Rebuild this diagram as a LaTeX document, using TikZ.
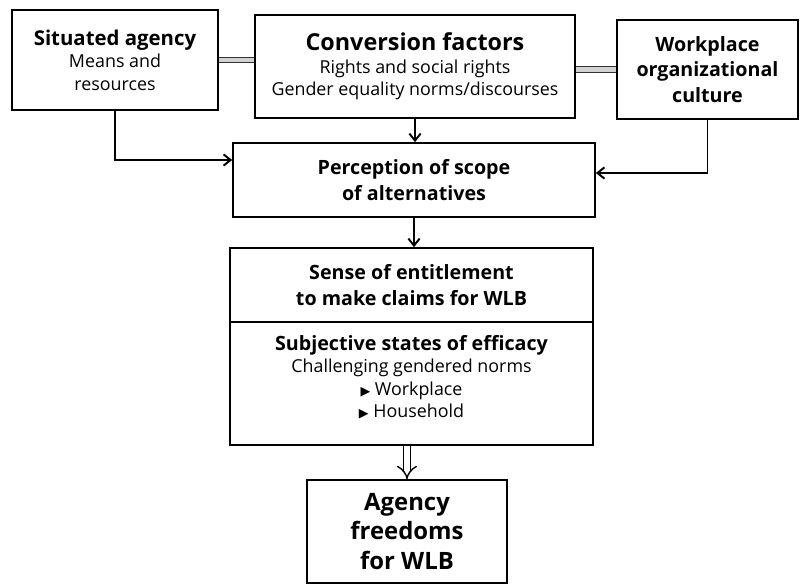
\documentclass[tikz,border=0pt]{standalone}
\usepackage{fontspec}
\setmainfont{Open Sans}
\newfontfamily\symfont{DejaVu Sans}
\usetikzlibrary{arrows.meta, positioning, calc}

\begin{document}
\begin{tikzpicture}[
    node distance=0pt,
    box/.style={rectangle, draw, line width=1.2pt, align=center, inner sep=2pt,
        font=\fontsize{12.7}{16}\selectfont},
    link/.style={draw=black!80, line width=0.7pt, double=gray!35, double distance=3pt},
    flow/.style={-{Straight Barb[length=5pt,width=8pt]}, line width=1.4pt},
    fat/.style={double, double distance=4pt, line width=1pt, -{Implies}},
]
\useasboundingbox (0,0) rectangle (20.2,-14.625);
\node[box, minimum width=5.15cm, minimum height=2.5cm] (situated) at (2.875,-1.5)
    {{\fontsize{14.5}{19}\selectfont\bfseries Situated agency}\\Means and\\resources};
\node[box, minimum width=8cm, minimum height=2.575cm] (conversion) at (10.375,-1.6625)
    {{\fontsize{16.6}{21}\selectfont\bfseries Conversion factors}\\Rights and social rights\\Gender equality norms/discourses};
\node[box, minimum width=4.525cm, minimum height=2.475cm, font=\fontsize{14}{18}\selectfont\bfseries] (workplace) at (17.6875,-1.7375)
    {Workplace\\organizational\\culture};
\node[box, minimum width=9.05cm, minimum height=1.85cm, font=\fontsize{14}{18}\selectfont\bfseries] (perception) at (10.35,-4.5)
    {Perception of scope\\of alternatives};
\node[box, minimum width=9.075cm, minimum height=1.85cm, font=\fontsize{14}{18}\selectfont\bfseries] (entitlement) at (10.2875,-7.125)
    {Sense of entitlement\\to make claims for WLB};
\node[box, minimum width=9.075cm, minimum height=3.075cm, text depth=0.35cm, below=-1.2pt of entitlement] (efficacy)
    {{\fontsize{14}{17}\selectfont\bfseries Subjective states of efficacy}\\Challenging gendered norms\\{\symfont\fontsize{9}{9}\selectfont ▶} Workplace\\{\symfont\fontsize{9}{9}\selectfont ▶} Household};
\node[box, minimum width=5cm, minimum height=2.575cm, font=\fontsize{17}{21}\selectfont\bfseries] (freedoms) at (10.175,-13.2875)
    {Agency\\freedoms\\for WLB};

\draw[link] (situated.east) -- (situated.east -| conversion.west);
\draw[link] (workplace.west) -- (workplace.west -| conversion.east);
\draw[flow] (conversion) -- (conversion |- perception.north);
\draw[flow] (situated) |- ([yshift=0.5cm]perception.west);
\draw[flow] (workplace) |- ([yshift=0.175cm]perception.east);
\draw[flow] (perception) -- (perception |- entitlement.north);
\draw[fat] (efficacy.south -| freedoms) -- (freedoms);
\end{tikzpicture}
\end{document}
